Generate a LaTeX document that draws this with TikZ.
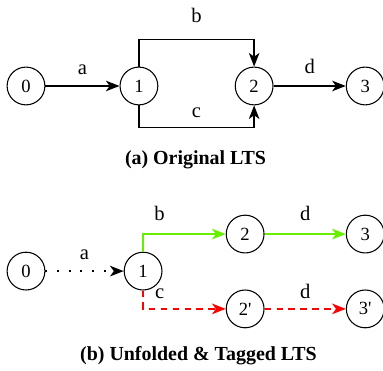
\documentclass[tikz,border=0pt]{standalone}
\usepackage{fontspec}
\setmainfont{Liberation Serif}
\usepackage{tikz}
\usetikzlibrary{calc,arrows,arrows.meta,positioning}
\tikzset{
  state/.style={circle,draw,line width=0.8pt,minimum size=1cm,inner sep=0pt,font=\fontsize{14}{16}\selectfont},
  lbl/.style={font=\fontsize{15.5}{18}\selectfont,inner sep=2pt},
  tr/.style={line width=1pt,-{Stealth[length=3.6mm,width=2.8mm,inset=1mm]}},
  okpath/.style={tr,draw=lime,color=lime,line width=1.5pt},
  failpath/.style={tr,draw=red,color=red,line width=1.5pt,dash pattern=on 5pt off 4pt},
  skippath/.style={tr,dash pattern=on 1.5pt off 7.3pt,line width=1.5pt},
  caption/.style={font=\fontsize{15}{17}\selectfont\bfseries}
}
\definecolor{lime}{RGB}{102,240,0}
\newcommand{\pr}{\textquotesingle}
\begin{document}
\begin{tikzpicture}
  \useasboundingbox (-0.688,2.275) rectangle (9.446,-7.541);

  % (a) original
  \node[state] (a0) {0};
  \node[state,right=1.96cm of a0] (a1) {1};
  \node[state,right=2.02cm of a1] (a2) {2};
  \node[state,right=1.91cm of a2] (a3) {3};
  \draw[tr] (a0) -- node[lbl,above=6pt]{a} (a1);
  \draw[tr] (a1.north) -- ++(0,0.72) -| node[lbl,pos=0.25,above=10pt]{b} (a2.north);
  \draw[tr] (a1.south) -- ++(0,-0.58) -| node[lbl,pos=0.25,above=5pt]{c} (a2.south);
  \draw[tr] (a2) -- node[lbl,above=7pt]{d} (a3);
  \node[caption] (capa) at (4.485,-1.96) {(a) Original LTS};

  % (b) unfolded & tagged
  \node[state,below=3.87cm of a0] (b0) {0};
  \node[state,right=2.07cm of b0] (b1) {1};
  \node[state] (b2) at ($(b1)+(2.70,0.98)$) {2};
  \node[state] (b2p) at ($(b1)+(2.70,-1.0)$) {2\pr};
  \node[state,right=2.15cm of b2] (b3) {3};
  \node[state,right=2.15cm of b2p] (b3p) {3\pr};
  \draw[skippath] (b0) -- node[lbl,above=6pt]{a} (b1);
  \draw[okpath] (b1.north) |- node[lbl,pos=0.6,above=7pt,text=black]{b} (b2);
  \draw[okpath] (b2) -- node[lbl,above=7pt,text=black]{d} (b3);
  \draw[failpath] (b1.south) |- node[lbl,pos=0.6,above=5pt,text=black]{c} (b2p);
  \draw[failpath] (b2p) -- node[lbl,above=5pt,text=black]{d} (b3p);
  \node[caption] (capb) at (4.564,-7.144) {(b) Unfolded \& Tagged LTS};
\end{tikzpicture}
\end{document}
